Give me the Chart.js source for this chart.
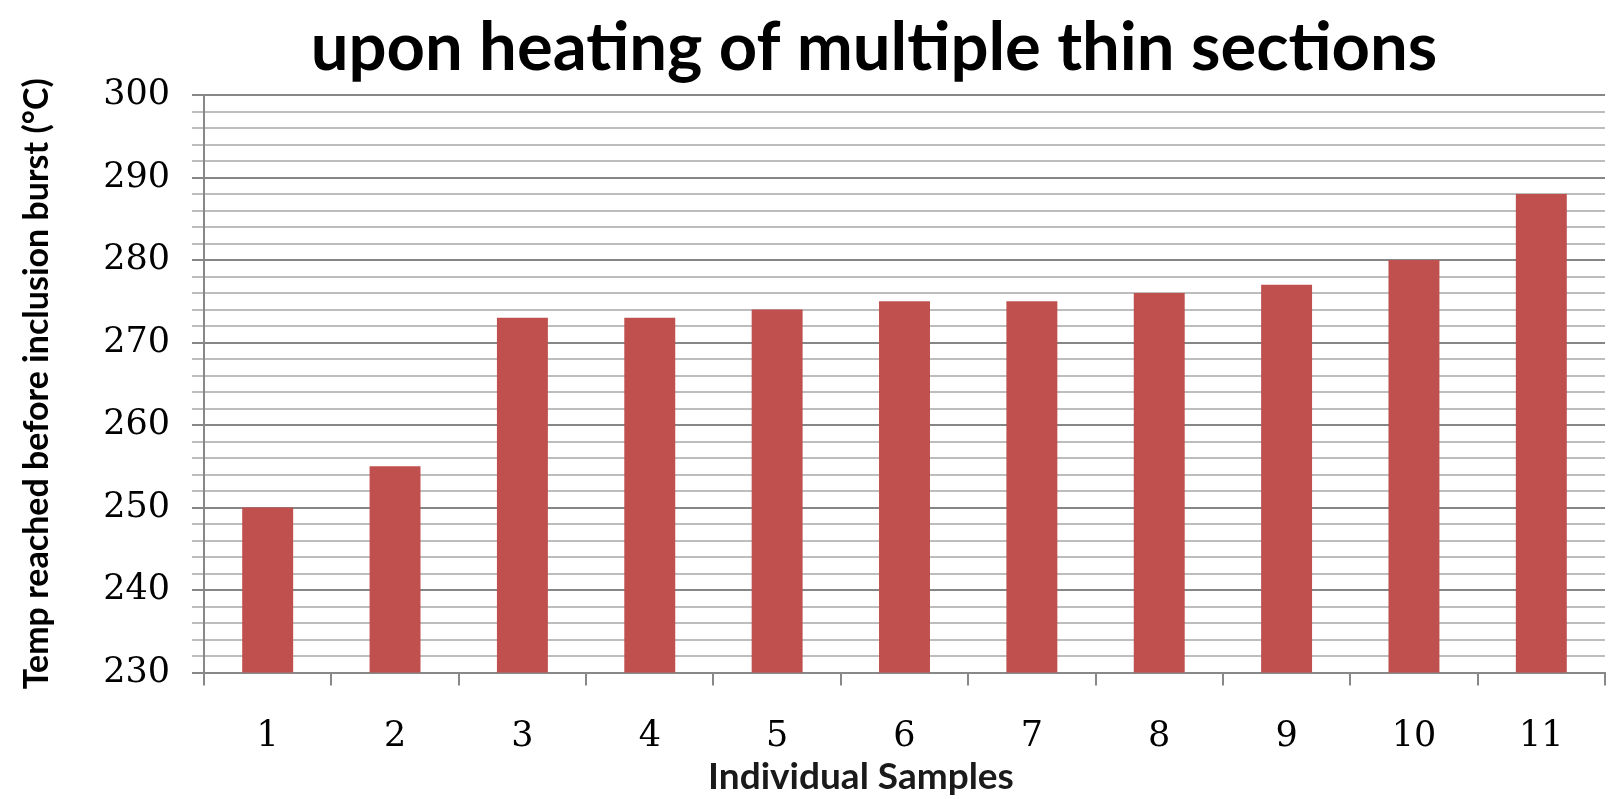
<!DOCTYPE html>
<html>
<head>
<meta charset="utf-8">
<script src="https://cdn.jsdelivr.net/npm/chart.js@4"></script>
<style>
html,body{margin:0;padding:0;background:#fff;}
#wrap{width:1608px;height:799px;position:relative;}
</style>
</head>
<body>
<div id="wrap"><canvas id="c" width="1608" height="799"></canvas></div>
<script>
const categories = ['1','2','3','4','5','6','7','8','9','10','11'];
const temps = [250, 255, 273, 273, 274, 275, 275, 276, 277, 280, 288];
const yMin = 230, yMax = 300, yMinorStep = 2, yMajorStep = 10;
const chartTitle = 'upon heating of multiple thin sections';
const yTitle = 'Temp reached before inclusion burst (°C)';
const xTitle = 'Individual Samples';

const shiftTitles = {
  id: 'shiftTitles',
  afterLayout(chart) {
    chart.boxes.forEach((b) => {
      const txt = b.options && b.options.text;
      if (txt === chartTitle) { b.left += 126; }
      else if (txt === xTitle) { b.left += 100; }
    });
  }
};

new Chart(document.getElementById('c'), {
  type: 'bar',
  data: {
    labels: categories,
    datasets: [{
      data: temps,
      backgroundColor: '#C0504D',
      borderWidth: 0,
      categoryPercentage: 1.0,
      barPercentage: 0.4
    }]
  },
  plugins: [shiftTitles],
  options: {
    responsive: false,
    animation: false,
    layout: { padding: { left: 17, right: 3, top: 0, bottom: 0 } },
    plugins: {
      legend: { display: false },
      tooltip: { enabled: false },
      title: {
        display: true,
        text: chartTitle,
        color: '#000',
        font: { family: 'Lato', size: 67, weight: 'bold', lineHeight: 1.0 },
        padding: { top: 15, bottom: 13 }
      },
      subtitle: {
        display: true,
        position: 'bottom',
        text: xTitle,
        color: '#1a1a1a',
        font: { family: 'Lato', size: 37, weight: 'bold', lineHeight: 1.2 },
        padding: { top: 0, bottom: 0 }
      }
    },
    scales: {
      x: {
        offset: true,
        afterFit: (s) => { s.height = 82; },
        grid: {
          offset: true,
          drawOnChartArea: false,
          drawTicks: true,
          tickLength: 13,
          color: '#888',
          lineWidth: 2
        },
        border: { color: '#888', width: 2 },
        ticks: {
          color: '#000',
          padding: 30,
          font: { family: 'DejaVu Serif', size: 35 }
        }
      },
      y: {
        min: yMin,
        max: yMax,
        afterFit: (s) => { s.width = 187; },
        grid: {
          color: (ctx) => (ctx.tick && ctx.tick.value % yMajorStep === 0) ? '#868686' : '#bdbdbd',
          lineWidth: 2,
          tickLength: 12
        },
        border: { color: '#888', width: 2 },
        ticks: {
          stepSize: yMinorStep,
          autoSkip: false,
          color: '#000',
          padding: 22,
          font: { family: 'DejaVu Serif', size: 35 },
          callback: (v) => (v % yMajorStep === 0) ? String(v) : ''
        },
        title: {
          display: true,
          text: yTitle,
          color: '#000',
          font: { family: 'Lato', size: 34, weight: 'bold' },
          padding: { top: 0, bottom: 0 }
        }
      }
    }
  }
});
</script>
</body>
</html>
